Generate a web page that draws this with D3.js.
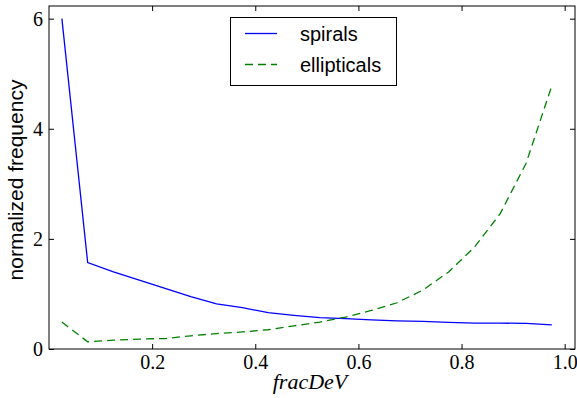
<!DOCTYPE html>
<html>
<head>
<meta charset="utf-8">
<script src="https://cdn.jsdelivr.net/npm/d3@7"></script>
<style>
  body { margin: 0; background: #fff; }
  svg { display: block; }
</style>
</head>
<body>
<div id="chart"></div>
<script>
// bin centres of fracDeV
const binCenters = [0.025, 0.075, 0.125, 0.175, 0.225, 0.275, 0.325, 0.375, 0.425, 0.475,
                    0.525, 0.575, 0.625, 0.675, 0.725, 0.775, 0.825, 0.875, 0.925, 0.975];
const spirals = [6.0, 1.57, 1.40, 1.25, 1.10, 0.95, 0.82, 0.75, 0.66, 0.61,
                 0.57, 0.55, 0.53, 0.51, 0.50, 0.485, 0.47, 0.47, 0.465, 0.44];
const ellipticals = [0.49, 0.13, 0.16, 0.18, 0.19, 0.24, 0.28, 0.31, 0.35, 0.42,
                     0.49, 0.58, 0.70, 0.84, 1.07, 1.40, 1.85, 2.46, 3.37, 4.78];
const xTicks = [0.2, 0.4, 0.6, 0.8, 1.0];
const yTicks = [0, 2, 4, 6];
const seriesNames = ["spirals", "ellipticals"];

const W = 577, H = 398;
const margin = { top: 6, right: 2, bottom: 49, left: 49 };
const width = W - margin.left - margin.right;
const height = H - margin.top - margin.bottom;

const svg = d3.select("#chart").append("svg")
  .attr("width", W)
  .attr("height", H);

const g = svg.append("g")
  .attr("transform", "translate(" + margin.left + "," + margin.top + ")");

const x = d3.scaleLinear().domain([0, 1.02]).range([0, width]);
const y = d3.scaleLinear().domain([0, 6.23]).range([height, 0]);

const tickFont = "'Liberation Serif', 'Times New Roman', serif";

// axes, ticks pointing inward on all four sides
function styleAxis(sel) {
  sel.select(".domain").remove();
  sel.selectAll(".tick line").attr("stroke", "#000").attr("stroke-width", 1);
  sel.selectAll("text")
    .attr("font-family", tickFont)
    .attr("font-size", 20)
    .attr("fill", "#000");
}

g.append("g")
  .attr("transform", "translate(0," + height + ")")
  .call(d3.axisBottom(x).tickValues(xTicks).tickFormat(d3.format(".1f"))
    .tickSizeInner(-5).tickSizeOuter(0).tickPadding(6))
  .call(styleAxis);

g.append("g")
  .call(d3.axisTop(x).tickValues(xTicks).tickFormat("")
    .tickSizeInner(-5).tickSizeOuter(0))
  .call(styleAxis);

g.append("g")
  .call(d3.axisLeft(y).tickValues(yTicks).tickFormat(d3.format("d"))
    .tickSizeInner(-5).tickSizeOuter(0).tickPadding(6))
  .call(styleAxis);

g.append("g")
  .attr("transform", "translate(" + width + ",0)")
  .call(d3.axisRight(y).tickValues(yTicks).tickFormat("")
    .tickSizeInner(-5).tickSizeOuter(0))
  .call(styleAxis);

// frame
g.append("rect")
  .attr("x", 0).attr("y", 0)
  .attr("width", width).attr("height", height)
  .attr("fill", "none")
  .attr("stroke", "#000")
  .attr("stroke-width", 1);

const line = d3.line()
  .x((d, i) => x(binCenters[i]))
  .y(d => y(d));

g.append("path")
  .datum(spirals)
  .attr("d", line)
  .attr("fill", "none")
  .attr("stroke", "#0000ff")
  .attr("stroke-width", 1.3);

g.append("path")
  .datum(ellipticals)
  .attr("d", line)
  .attr("fill", "none")
  .attr("stroke", "#008000")
  .attr("stroke-width", 1.3)
  .attr("stroke-dasharray", "8,5");

// axis labels
svg.append("text")
  .attr("x", 310)
  .attr("y", 389)
  .attr("text-anchor", "middle")
  .attr("font-family", tickFont)
  .attr("font-style", "italic")
  .attr("font-size", 22)
  .text("fracDeV");

svg.append("text")
  .attr("transform", "translate(23,180) rotate(-90)")
  .attr("text-anchor", "middle")
  .attr("font-family", "'Liberation Sans', Arial, sans-serif")
  .attr("font-size", 21)
  .text("normalized frequency");

// legend
const legend = svg.append("g");
legend.append("rect")
  .attr("x", 230.5).attr("y", 17.5)
  .attr("width", 166).attr("height", 68)
  .attr("fill", "#fff")
  .attr("stroke", "#000")
  .attr("stroke-width", 1);

const legendStyles = [
  { color: "#0000ff", dash: null },
  { color: "#008000", dash: "8,5" }
];

seriesNames.forEach((name, i) => {
  const ly = 33.5 + i * 31;
  legend.append("line")
    .attr("x1", 245).attr("x2", 277)
    .attr("y1", ly).attr("y2", ly)
    .attr("stroke", legendStyles[i].color)
    .attr("stroke-width", 1.3)
    .attr("stroke-dasharray", legendStyles[i].dash);
  legend.append("text")
    .attr("x", 300)
    .attr("y", ly + 7.5)
    .attr("font-family", "'Liberation Sans', Arial, sans-serif")
    .attr("font-size", 20)
    .text(name);
});
</script>
</body>
</html>
